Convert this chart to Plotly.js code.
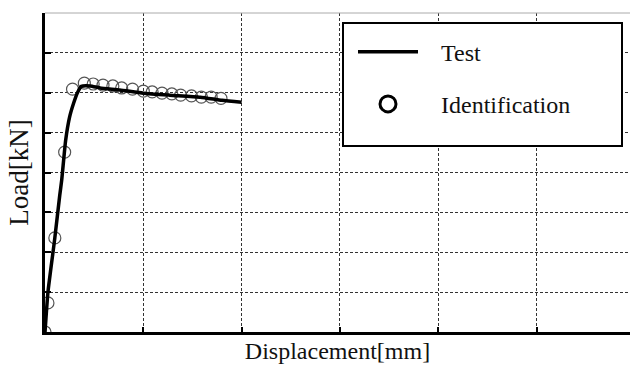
<!DOCTYPE html>
<html>
<head>
<meta charset="utf-8">
<script src="https://cdn.plot.ly/plotly-3.0.1.min.js"></script>
<style>html,body{margin:0;padding:0;background:#fff;}#chart{width:630px;height:365px;}</style>
</head>
<body>
<div id="chart"></div>
<script>
// Test curve (displacement, load) in grid units
const testX = [0, 0.01, 0.03, 0.10, 0.15, 0.17, 0.21, 0.25, 0.29, 0.33, 0.37, 0.46, 0.56, 0.76, 1.00, 1.27, 1.58, 1.80, 2.00];
const testY = [0, 0.35, 1.00, 2.36, 3.43, 3.81, 4.81, 5.39, 5.73, 6.00, 6.16, 6.17, 6.12, 6.07, 5.99, 5.94, 5.89, 5.81, 5.76];
// Identification points
const idX = [0, 0.03, 0.10, 0.20, 0.28, 0.40, 0.49, 0.59, 0.69, 0.78, 0.89, 1.00, 1.09, 1.19, 1.29, 1.38, 1.49, 1.59, 1.69, 1.79];
const idY = [0, 0.73, 2.36, 4.51, 6.09, 6.24, 6.22, 6.19, 6.17, 6.12, 6.09, 6.04, 6.02, 5.99, 5.97, 5.94, 5.92, 5.89, 5.89, 5.86];
const xTicks = [0, 1, 2, 3, 4, 5];
const yTicks = [0, 1, 2, 3, 4, 5, 6, 7, 8];
const names = ['Test', 'Identification'];

const serif = '"Liberation Serif", "Times New Roman", serif';
const pad = '\u00a0\u00a0\u00a0';

const traces = [
  {x: idX, y: idY, type: 'scatter', mode: 'markers', showlegend: false,
   marker: {symbol: 'circle-open', size: 12, color: '#555', line: {width: 1.2, color: '#555'}}},
  {x: testX, y: testY, type: 'scatter', mode: 'lines', name: pad + names[0], legendgroup: 'a',
   line: {color: '#000', width: 3.5, shape: 'spline', smoothing: 0.5}},
  {x: [null], y: [null], type: 'scatter', mode: 'markers', name: pad + names[1], legendgroup: 'b',
   marker: {symbol: 'circle-open', size: 16, color: '#000', line: {width: 3, color: '#000'}}}
];

const layout = {
  width: 630, height: 365,
  margin: {l: 45, r: 0, t: 13, b: 33},
  paper_bgcolor: '#fff', plot_bgcolor: '#fff',
  font: {family: serif, color: '#111'},
  showlegend: true,
  legend: {x: 0.5265, y: 0.948, xanchor: 'left', yanchor: 'top', bgcolor: 'rgba(0,0,0,0)',
           borderwidth: 0, font: {family: serif, size: 24, color: '#111'},
           traceorder: 'grouped', tracegroupgap: 18, itemwidth: 60},
  xaxis: {range: [0, 5.95], tickvals: xTicks, showticklabels: false, ticks: 'inside', ticklen: 5, tickwidth: 2, tickcolor: '#000',
          showgrid: true, gridcolor: '#333', gridwidth: 1, griddash: '3px,2px', zeroline: false,
          showline: true, linecolor: '#000', linewidth: 3,
          title: {text: 'Displacement[mm]', font: {family: serif, size: 24, color: '#111'}, standoff: 9}, automargin: false, fixedrange: true},
  yaxis: {range: [0, 8], tickvals: yTicks, showticklabels: false, ticks: 'inside', ticklen: 6, tickwidth: 2, tickcolor: '#000',
          showgrid: true, gridcolor: '#333', gridwidth: 1, griddash: '3px,2px', zeroline: false,
          showline: true, linecolor: '#000', linewidth: 3,
          title: {text: 'Load[kN]', font: {family: serif, size: 27, color: '#111'}, standoff: 6}, automargin: false, fixedrange: true},
  shapes: [
    {type: 'line', xref: 'paper', yref: 'paper', x0: 0, x1: 1, y0: 1, y1: 1, line: {color: '#aaa', width: 1}},
    {type: 'rect', xref: 'paper', yref: 'paper', x0: (343-45)/585, x1: (622-45)/585, y0: (332-146)/319, y1: (332-23)/319,
     line: {color: '#000', width: 2}, fillcolor: '#fff', layer: 'above'}
  ]
};

Plotly.newPlot('chart', traces, layout, {displayModeBar: false, staticPlot: true});
</script>
</body>
</html>
